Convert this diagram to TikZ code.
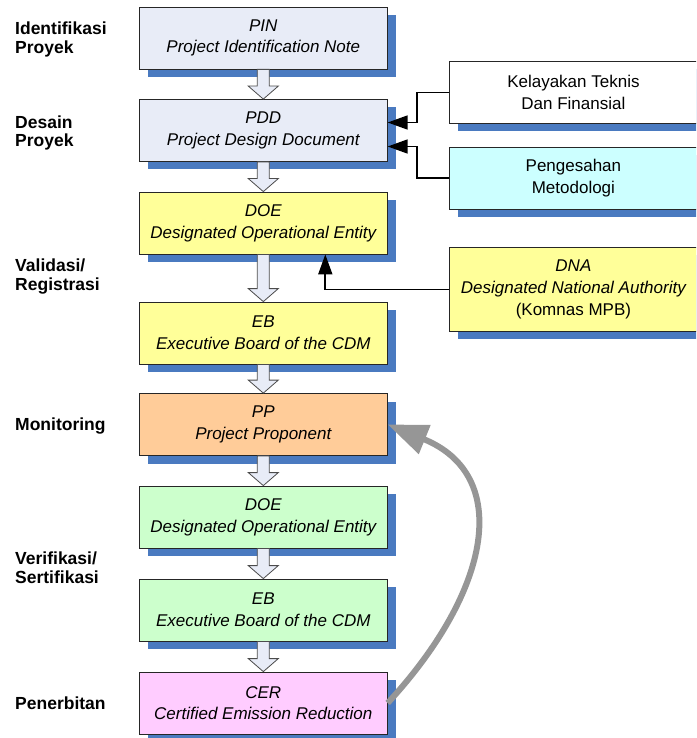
\documentclass[tikz,border=0pt]{standalone}
\usepackage{fontspec}
\setmainfont{Liberation Sans}
\usetikzlibrary{shadows,arrows.meta,calc}
\definecolor{shadowblue}{RGB}{74,122,192}
\definecolor{lav}{RGB}{232,236,247}
\definecolor{yel}{RGB}{255,255,153}
\definecolor{peach}{RGB}{255,204,153}
\definecolor{mint}{RGB}{204,255,204}
\definecolor{pinkc}{RGB}{255,204,255}
\definecolor{cyanc}{RGB}{204,255,255}
\definecolor{curvegray}{RGB}{150,150,150}
\begin{document}
\begin{tikzpicture}[x=1pt,y=-1pt,
 box/.style={draw=black!85, line width=0.8pt, minimum width=248pt, minimum height=62pt,
   inner sep=0pt, align=center, font=\fontsize{17}{21.7}\selectfont\itshape,
   drop shadow={shadow xshift=9pt, shadow yshift=-8pt, opacity=1, fill=shadowblue}},
 rbox/.style={box, anchor=north west, font=\fontsize{17}{21.7}\selectfont},
 lbl/.style={anchor=base west, inner sep=0pt, align=left, font=\fontsize{17.5}{18.5}\selectfont\bfseries},
 conn/.style={line width=1.7pt, -{Triangle[length=20pt,width=14pt]}},
 hollow/.style={draw=black!70, line width=0.8pt, fill=lav,
   to path={let \p1=(\tikztostart), \p2=(\tikztotarget) in
     (\x1-6pt,\y1) -- (\x1-6pt,\y2+13pt) -- (\x1-15pt,\y2+13pt) -- (\x2,\y2)
     -- (\x1+15pt,\y2+13pt) -- (\x1+6pt,\y2+13pt) -- (\x1+6pt,\y1) -- cycle}},
]
\useasboundingbox (0,0) rectangle (696,738);
\clip (0,0) rectangle (696,738);

% left labels (base anchor = baseline of last line)
\node[lbl] (l1) at (15,53.5) {Identifikasi\\Proyek};
\node[lbl] (l2) at (15,147) {Desain\\Proyek};
\node[lbl] (l3) at (15,290) {Validasi/\\Registrasi};
\node[lbl] (l4) at (15,430) {Monitoring};
\node[lbl] (l5) at (15,583) {Verifikasi/\\Sertifikasi};
\node[lbl] (l6) at (15,709.5) {Penerbitan};

% main boxes
\node[box, fill=lav]   (pin)  at (263.3,38)    {PIN\\Project Identification Note};
\node[box, fill=lav]   (pdd)  at (263.3,130.5) {PDD\\Project Design Document};
\node[box, fill=yel]   (doe1) at (263.3,223)   {DOE\\Designated Operational Entity};
\node[box, fill=yel]   (eb1)  at (263.3,333)   {EB\\Executive Board of the CDM};
\node[box, fill=peach] (pp)   at (263.3,424.5) {PP\\Project Proponent};
\node[box, fill=mint]  (doe2) at (263.3,517)   {DOE\\Designated Operational Entity};
\node[box, fill=mint]  (eb2)  at (263.3,610)   {EB\\Executive Board of the CDM};
\node[box, fill=pinkc] (cer)  at (263.3,703)   {CER\\Certified Emission Reduction};

% right boxes
\node[rbox, fill=white] (kel)  at (449,61)  {Kelayakan Teknis\\Dan Finansial};
\node[rbox, fill=cyanc, minimum height=61.5pt] (peng) at (449,147) {Pengesahan\\Metodologi};
\node[rbox, fill=yel, minimum height=84pt] (dna) at (449,247)
  {\itshape DNA\\\itshape Designated National Authority\\(Komnas MPB)};

% hollow arrows
\path[hollow] (pin.south) to (pdd.north);
\path[hollow] (pdd.south) to (doe1.north);
\path[hollow] (doe1.south) to (eb1.north);
\path[hollow] (eb1.south) to (pp.north);
\path[hollow] (pp.south) to (doe2.north);
\path[hollow] (doe2.south) to (eb2.north);
\path[hollow] (eb2.south) to (cer.north);

% connectors
\draw[conn] (kel.west) -- ++(-32,0) |- ([yshift=8pt]pdd.east);
\draw[conn] (peng.west) -- ++(-32,0) |- ([yshift=-16pt]pdd.east);
\draw[conn] (dna.west) -| ([xshift=62pt]doe1.south);

% curved feedback arrow
\draw[curvegray, line width=6pt, -{Triangle[length=40pt,width=30pt]}]
  (cer.east) .. controls (492,590) and (512,475) .. (pp.east);
\end{tikzpicture}
\end{document}
